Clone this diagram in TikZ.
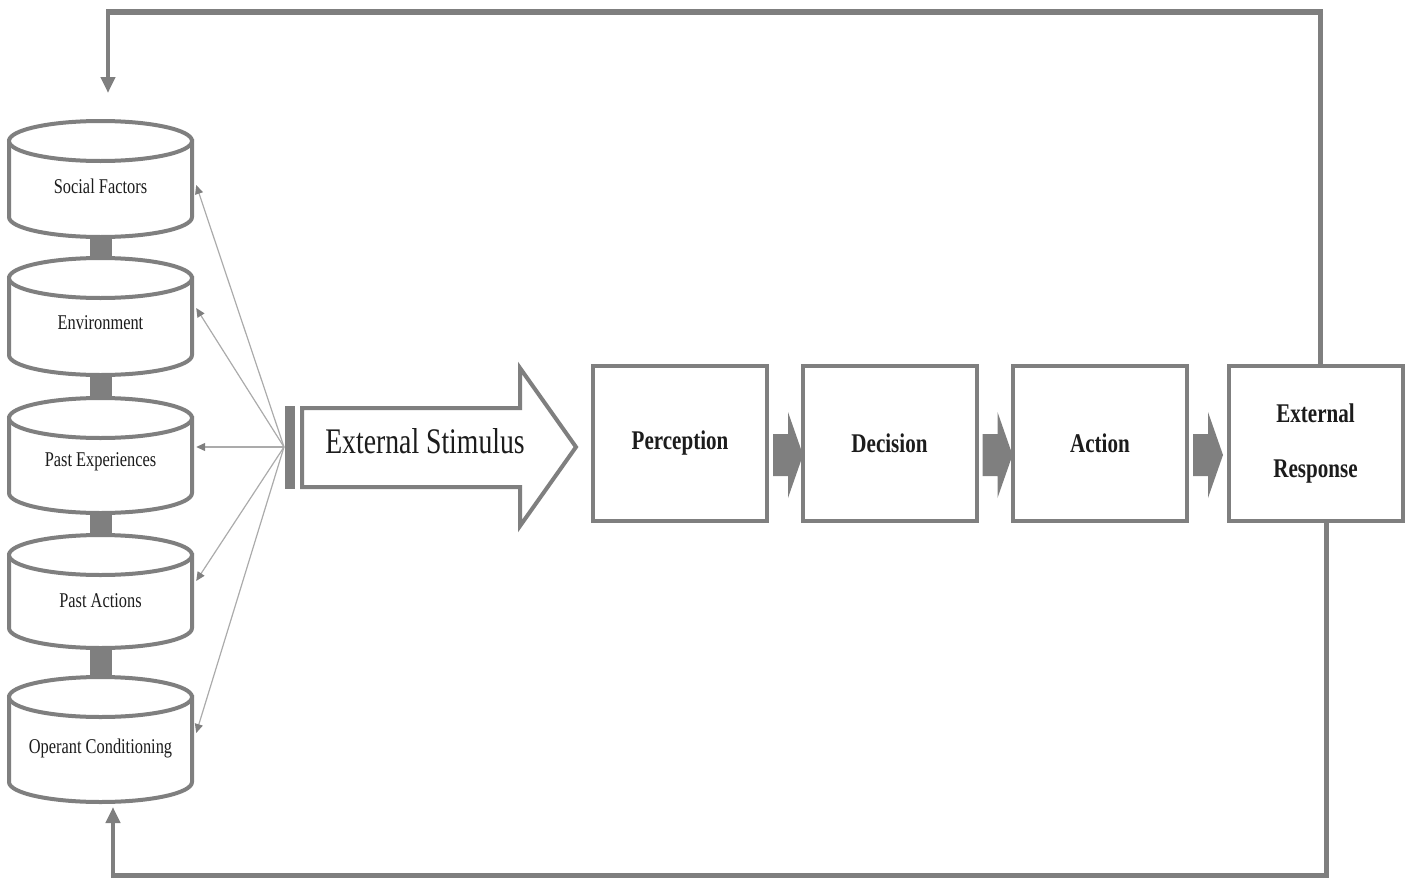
\documentclass[tikz,border=0pt]{standalone}
\usepackage{fontspec}
\setmainfont{Liberation Serif}
\newfontfamily\condfont[FakeStretch=0.78]{Liberation Serif}
\newfontfamily\stimfont[FakeStretch=0.77]{Liberation Serif}
\usetikzlibrary{arrows.meta,calc}
\definecolor{linegray}{HTML}{7F7F7F}
\definecolor{thingray}{HTML}{ABABAB}
\definecolor{inkblack}{HTML}{1C1C1C}

% draws one cylinder: #1 = centre of top ellipse (y), #2 = centre of bottom arc (y)
\newcommand{\drumshape}[2]{%
  \filldraw[cylline] (9,#1) -- (9,#2)
    arc[start angle=180,end angle=0,x radius=91.5,y radius=20] -- (192,#1) -- cycle;
  \filldraw[cylline] (100.5,#1) ellipse[x radius=91.5,y radius=20];
}

\begin{document}
\begin{tikzpicture}[x=1pt,y=-1pt,
  every node/.style={text=inkblack,inner sep=0pt},
  cylline/.style={draw=linegray,fill=white,line width=4pt},
  cyltext/.style={font=\condfont\fontsize{21}{25}\selectfont,minimum width=183pt},
  procbox/.style={draw=linegray,fill=white,line width=4pt,minimum width=174pt,
    minimum height=155pt,align=center,font=\condfont\bfseries\fontsize{27}{55}\selectfont},
  linkbar/.style={fill=linegray},
  feeder/.style={draw=thingray,line width=1.2pt,
    -{Triangle[length=9pt,width=8pt,color=linegray]}},
  loopline/.style={draw=linegray,line width=5pt},
  loopend/.style={draw=linegray,line width=4pt,
    -{Triangle[length=16pt,width=14pt,color=linegray]}},
  blockarrow/.style={fill=linegray}]
\useasboundingbox (0,0) rectangle (1411,878);

% bars joining the stacked cylinders
\fill[linkbar] (90,230) rectangle (112,265);
\fill[linkbar] (90,368) rectangle (112,405);
\fill[linkbar] (90,506) rectangle (112,542);
\fill[linkbar] (90,645) rectangle (112,684);

% stack of influencing factors
\drumshape{141}{217}
\drumshape{278}{355}
\drumshape{418}{493}
\drumshape{555}{628}
\drumshape{697}{782}

\node[cyltext] (sf) at (100.5,186) {Social Factors};
\node[cyltext] (env) at (100.5,323) {Environment};
\node[cyltext] (pe) at (100.5,462) {Past Experiences};
\node[cyltext] (pa) at (100.5,601) {Past Actions};
\node[cyltext] (oc) at (100.5,748) {Operant Conditioning};

% external stimulus arrow
\filldraw[draw=linegray,fill=white,line width=4pt,line join=miter]
  (302,408) -- (520,408) -- (520,368) -- (576,447) -- (520,526) -- (520,487)
  -- (302,487) -- cycle;
\fill[linegray] (285,406) rectangle (295,489);
\node[font=\stimfont\fontsize{36}{40}\selectfont] (stim) at (425,441) {External Stimulus};
\coordinate (src) at (284,447);

% processing chain
\node[procbox] (perc) at (680,443.5) {Perception};
\node[procbox] (dec) at (889.5,443.5) {Decision};
\node[procbox] (act) at (1100,443.5) {Action};
\node[procbox] (er) at (1315.5,443.5) {External\\Response};

\foreach \a/\b in {perc/dec,dec/act,act/er}{
  \fill[blockarrow] ($(\a.east)+(4,-9.5)$) -- ++(15,0) -- ++(0,-22) -- ++(15,43)
    -- ++(-15,43) -- ++(0,-22) -- ++(-15,0) -- cycle;
}

% stimulus feeding the factors
\draw[feeder] (src) -- ([xshift=4pt,yshift=1pt]sf.east);
\draw[feeder] (src) -- ([xshift=4pt,yshift=15pt]env.east);
\draw[feeder] (src) -- ([xshift=4pt,yshift=15pt]pe.east);
\draw[feeder] (src) -- ([xshift=4pt,yshift=20pt]pa.east);
\draw[feeder] (src) -- ([xshift=4pt,yshift=15pt]oc.east);

% feedback loops
\coordinate (topL) at (108,12);
\coordinate (topEnd) at (108,93);
\coordinate (botL) at (113,875);
\coordinate (botEnd) at (113,807);
\draw[loopline,line join=miter] ([xshift=4.5pt,yshift=-2pt]er.north) -- ([xshift=4.5pt]er.north |- topL);
\draw[loopline,line width=6.5pt] ([xshift=7.5pt]er.north |- topL) -- ([xshift=-2pt]topL);
\draw[loopend] (topL) -- (topEnd);
\draw[loopline,line join=miter] ([xshift=10.5pt,yshift=2pt]er.south) |- ([xshift=-2pt]botL);
\draw[loopend] (botL) -- (botEnd);
\end{tikzpicture}
\end{document}
